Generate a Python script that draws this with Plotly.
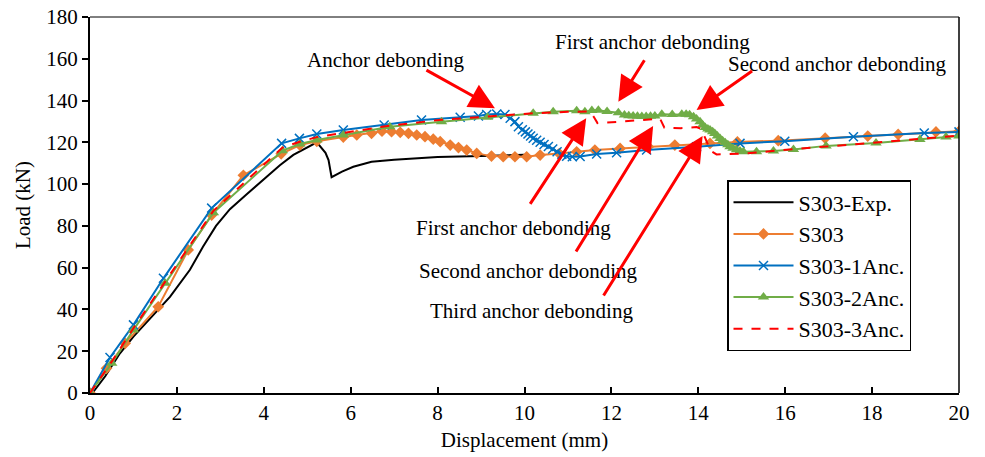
import plotly.graph_objects as go

# ---------------- data ----------------
exp_x = [0, 0.08, 0.35, 0.69, 1.0, 1.4, 1.84, 2.3, 2.6, 2.9, 3.22, 3.6, 3.99, 4.37, 4.68, 5.0, 5.22, 5.42, 5.49, 5.56, 5.8, 6.06, 6.48, 7.0, 7.5, 8.0, 9.0, 10.0]
exp_y = [0, 0.6, 8, 19, 27, 36, 46, 59, 70, 80, 88, 95, 102, 109, 114, 117.5, 120, 115, 111.5, 103.3, 106, 108.3, 110.7, 111.7, 112.3, 113, 113.5, 114]

s303_x = [0, 0.38, 0.81, 1.57, 2.26, 2.8, 3.53, 4.4, 4.83, 5.22, 5.83, 6.14, 6.48, 6.72, 6.94, 7.14, 7.33, 7.52, 7.71, 7.9, 8.06, 8.29, 8.48, 8.67, 8.9, 9.24, 9.51, 9.78, 10.05, 10.36, 10.8, 11.2, 11.62, 12.2, 12.85, 13.46, 14.27, 14.9, 15.84, 16.92, 17.9, 18.6, 19.47, 20.0]
s303_y = [0, 11.8, 23.8, 41.3, 68.5, 85.2, 104.2, 114.5, 118.7, 120.5, 122.5, 123.5, 124.3, 125.3, 125.1, 124.8, 124.3, 123.5, 122.7, 121.5, 120.3, 118.7, 117.5, 116.3, 114.7, 113.4, 113.1, 113.1, 113.1, 113.9, 114.6, 115.5, 116.3, 117.1, 117.9, 118.7, 119.5, 120.2, 120.8, 122.0, 123.0, 123.8, 125.0, 125.3]

anc1_x = [0, 0.46, 1.0, 1.69, 2.8, 4.41, 4.82, 5.22, 5.83, 6.77, 7.63, 8.52, 8.94, 9.13, 9.36, 9.55, 9.67, 9.78, 9.86, 9.95, 10.02, 10.08, 10.14, 10.2, 10.28, 10.36, 10.45, 10.55, 10.65, 10.75, 10.86, 10.97, 11.1, 11.28, 11.66, 12.12, 12.81, 13.96, 14.96, 15.99, 17.57, 19.2, 20.0]
anc1_y = [0, 17, 32.6, 54.9, 88.5, 119.5, 121.9, 124, 125.9, 128.3, 130.7, 132, 132.6, 133.3, 133.6, 133.3, 131.5, 129.9, 127.5, 126, 125, 124, 123, 122, 121, 120, 119, 118, 116.8, 115.5, 114.3, 113.3, 113.1, 113.2, 114.4, 115, 116.3, 117.9, 119.5, 120.5, 122.7, 124.5, 125]

anc2_x = [0, 0.5, 1.0, 1.73, 2.84, 4.43, 4.83, 5.22, 5.83, 6.9, 8.09, 9.15, 10.2, 10.66, 11.2, 11.39, 11.55, 11.7, 11.9, 12.16, 12.3, 12.4, 12.5, 12.6, 12.7, 12.8, 12.9, 13.0, 13.16, 13.4, 13.62, 13.72, 13.8, 13.89, 13.96, 14.04, 14.1, 14.16, 14.22, 14.27, 14.33, 14.38, 14.44, 14.5, 14.56, 14.62, 14.68, 14.73, 14.8, 14.88, 14.96, 15.04, 15.34, 15.73, 16.19, 16.94, 18.09, 19.1, 19.7, 20.0]
anc2_y = [0, 14.2, 30.2, 52.5, 86.3, 116, 119.2, 121.1, 123.5, 127.5, 129.9, 132, 133.9, 134.7, 135.1, 134.7, 135.2, 135.3, 134.8, 134.2, 133.1, 132.7, 132.6, 132.5, 132.4, 132.4, 132.5, 132.6, 133.4, 133.3, 133.4, 133.5, 133.2, 132.3, 131.2, 129.9, 128.3, 127.1, 126.4, 125.9, 125.1, 124.2, 123.0, 121.8, 120.8, 119.8, 118.9, 117.9, 117.2, 116.4, 115.9, 115.5, 115.5, 115.8, 116.6, 118.3, 119.7, 121.3, 122.6, 123.0]

anc3_x = [0, 0.5, 1.0, 1.73, 2.84, 4.43, 4.83, 5.22, 5.83, 6.9, 8.09, 9.44, 10.2, 11.0, 11.51, 11.6, 11.68, 12.2, 12.6, 13.04, 13.12, 13.22, 13.6, 13.96, 14.06, 14.16, 14.28, 14.42, 14.6, 15.1, 15.96, 17.0, 18.0, 19.0, 20.0]
anc3_y = [0, 15, 31, 53.5, 87.2, 117.5, 120.3, 122.5, 124.5, 128, 130.8, 133, 133.9, 134.6, 134.8, 132, 129.2, 129.9, 130.6, 131.3, 131.3, 127, 126.8, 127.3, 126.5, 122, 116, 114.2, 114.4, 114.7, 116.3, 118, 119.8, 121.5, 123.2]

series_names = ["S303-Exp.", "S303", "S303-1Anc.", "S303-2Anc.", "S303-3Anc."]
x_ticks = [0, 2, 4, 6, 8, 10, 12, 14, 16, 18, 20]
y_ticks = [0, 20, 40, 60, 80, 100, 120, 140, 160, 180]

FONT = "Times New Roman, Liberation Serif, serif"
RED = "#FF0000"

fig = go.Figure()
fig.add_trace(go.Scatter(x=exp_x, y=exp_y, mode="lines", name=series_names[0],
                         line=dict(color="black", width=2), legendgroup="a"))
fig.add_trace(go.Scatter(x=s303_x, y=s303_y, mode="lines+markers", name=series_names[1],
                         line=dict(color="#ED7D31", width=2),
                         marker=dict(symbol="diamond", size=9, color="#ED7D31"), legendgroup="b"))
fig.add_trace(go.Scatter(x=anc1_x, y=anc1_y, mode="lines+markers", name=series_names[2],
                         line=dict(color="#0070C0", width=2),
                         marker=dict(symbol="x-thin", size=9, line=dict(color="#0070C0", width=1.5)), legendgroup="c"))
fig.add_trace(go.Scatter(x=anc2_x, y=anc2_y, mode="lines+markers", name=series_names[3],
                         line=dict(color="#70AD47", width=2),
                         marker=dict(symbol="triangle-up", size=10, color="#70AD47"), legendgroup="d"))
fig.add_trace(go.Scatter(x=anc3_x, y=anc3_y, mode="lines", name=series_names[4],
                         line=dict(color=RED, width=2, dash="dash"), legendgroup="e"))

# text labels
texts = [
    ("Anchor debonding", 385, 60),
    ("First anchor debonding", 652, 42),
    ("Second anchor debonding", 837, 64),
    ("First anchor debonding", 513, 228),
    ("Second anchor debonding", 528, 271),
    ("Third anchor debonding", 531, 311),
]
L, T, W, H = 90, 17, 869, 376
for t, px, py in texts:
    fig.add_annotation(text=t, x=(px - L) / W, y=1 - (py - T) / H, xref="paper", yref="paper",
                       showarrow=False, xanchor="center", yanchor="middle",
                       font=dict(family=FONT, size=21, color="black"))

# arrows: tip in data coords, tail offset in pixels
arrows = [
    (9.32, 136.3, -70, -39),
    (12.16, 139.4, 27, -43),
    (13.96, 135.5, 57, -40),
    (11.42, 131.5, -57, 87),
    (12.96, 127.8, -78, 127),
    (14.10, 123.0, -100, 161),
]
for ax_, ay_, dx, dy in arrows:
    fig.add_annotation(x=ax_, y=ay_, xref="x", yref="y", ax=dx, ay=dy, axref="pixel", ayref="pixel",
                       text="", showarrow=True, arrowhead=2, arrowsize=1.7, arrowwidth=3,
                       arrowcolor=RED, standoff=0)

# thin top/right frame
fig.add_shape(type="line", xref="paper", yref="paper", x0=0, x1=1, y0=1, y1=1,
              line=dict(color="black", width=1))
fig.add_shape(type="line", xref="paper", yref="paper", x0=1, x1=1, y0=0, y1=1,
              line=dict(color="black", width=1.5))

fig.update_layout(
    width=985, height=457,
    margin=dict(l=90, r=26, t=17, b=64, autoexpand=False),
    paper_bgcolor="white", plot_bgcolor="white",
    font=dict(family=FONT, size=21, color="black"),
    showlegend=True,
    legend=dict(x=(727 - L) / W, y=1 - (180 - T) / H, xanchor="left", yanchor="top",
                bgcolor="white", bordercolor="black", borderwidth=1.5,
                font=dict(family=FONT, size=22, color="black"),
                itemwidth=60, tracegroupgap=0, traceorder="grouped"),
    xaxis=dict(range=[0, 20], tickvals=x_ticks, ticks="inside", ticklen=6, tickwidth=1.5,
               tickcolor="black", showline=True, linecolor="black", linewidth=2,
               showgrid=False, zeroline=False, tickfont=dict(size=21), automargin=False,
               title=dict(text="Displacement (mm)", standoff=8, font=dict(size=21))),
    yaxis=dict(range=[0, 180], tickvals=y_ticks, ticks="outside", ticklen=6, tickwidth=1.5,
               tickcolor="black", showline=True, linecolor="black", linewidth=2,
               showgrid=False, zeroline=False, tickfont=dict(size=21), automargin=False,
               title=dict(text="Load (kN)", standoff=10, font=dict(size=21))),
)

fig.write_html("out.html")
